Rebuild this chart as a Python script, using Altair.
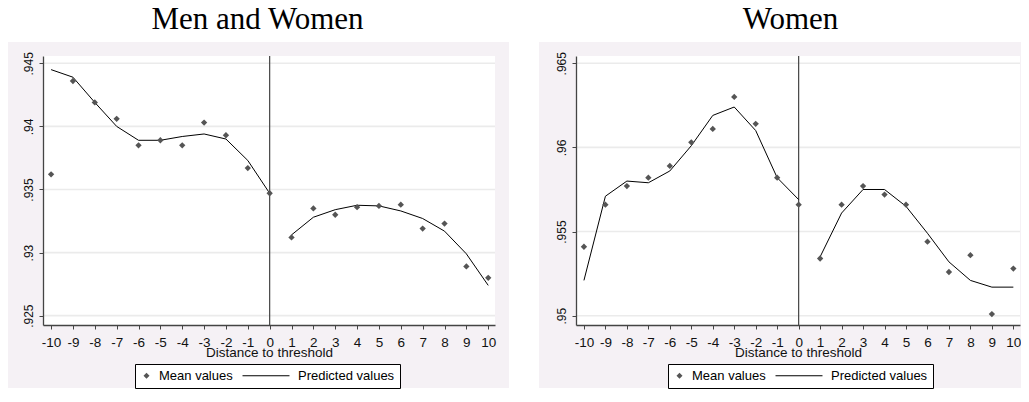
import altair as alt
import pandas as pd

# ---- data ----
x_vals = list(range(-10, 11))

mw_mean = [0.9362, 0.9436, 0.9419, 0.9406, 0.9385, 0.9389, 0.9385, 0.9403, 0.9393, 0.9367, 0.9347,
           0.9312, 0.9335, 0.9330, 0.9336, 0.9337, 0.9338, 0.9319, 0.9323, 0.9289, 0.9280]
mw_pred = [0.9445, 0.9439, 0.9419, 0.9400, 0.9389, 0.9389, 0.9392, 0.9394, 0.9390, 0.9373, 0.9347,
           0.9314, 0.9328, 0.9334, 0.93375, 0.9337, 0.9333, 0.9327, 0.9317, 0.9299, 0.9274]

w_mean = [0.9541, 0.9566, 0.9577, 0.9582, 0.9589, 0.9603, 0.9611, 0.9630, 0.9614, 0.9582, 0.9566,
          0.9534, 0.9566, 0.9577, 0.9572, 0.9566, 0.9544, 0.9526, 0.9536, 0.9501, 0.9528]
w_pred = [0.9521, 0.9571, 0.9580, 0.9579, 0.9586, 0.9601, 0.9619, 0.9624, 0.9610, 0.9582, 0.9569,
          0.9535, 0.9561, 0.9575, 0.9575, 0.9565, 0.9549, 0.9532, 0.9521, 0.9517, 0.9517]

mw_yticks = [0.925, 0.93, 0.935, 0.94, 0.945]
w_yticks = [0.95, 0.955, 0.96, 0.965]

series_names = ["Mean values", "Predicted values"]
titles = ["Men and Women", "Women"]
x_title = "Distance to threshold"

# ---- styling ----
H = 269
LAV = "#f5f1f5"
GRID = "#ebebeb"
AXC = "#444444"
PTC = "#555555"
SANS = "Liberation Sans"
LINE_PATH = "M-14.33,-0.2L1.33,-0.2L1.33,0.2L-14.33,0.2Z"


def panel(title, W, dx, mean, pred, yticks, ydom):
    df = pd.DataFrame({
        "x": x_vals,
        "mean": mean,
        "pred": pred,
        "seg": ["L" if v <= 0 else "R" for v in x_vals],
        "series": series_names[0],
    })
    one = pd.DataFrame({"v": [0]})
    xs = alt.Scale(domain=[-10.37, 10.31], nice=False, zero=False)
    ys = alt.Scale(domain=ydom, nice=False, zero=False)

    x_axis = alt.Axis(values=x_vals, labelExpr="'' + datum.value", tickSize=4, tickColor=AXC,
                      domainColor=AXC, domainWidth=1.3, labelPadding=17.5,
                      labelBaseline="alphabetic", labelFlush=False, labelOverlap=False,
                      title=x_title, titleBaseline="alphabetic", titleY=31,
                      grid=False, zindex=1)
    y_axis = alt.Axis(values=yticks, labelExpr="slice(format(datum.value, '.3~f'), 1)",
                      labelAngle=270, labelAlign="center", labelBaseline="alphabetic",
                      labelFontSize=12, tickSize=4, tickColor=AXC, domainColor=AXC,
                      domainWidth=1.3, labelPadding=7, labelFlush=False, labelOverlap=False,
                      title=None, grid=False, zindex=1)

    X = alt.X("x:Q", scale=xs, axis=x_axis)

    bg = alt.Chart(one).mark_rect(color=LAV).encode(
        x=alt.value(-37), x2=alt.value(466), y=alt.value(-14), y2=alt.value(332))
    white = alt.Chart(one).mark_rect(color="white").encode(
        x=alt.value(0), x2=alt.value(W), y=alt.value(0), y2=alt.value(H))
    grid = alt.Chart(pd.DataFrame({"t": yticks})).mark_rule(color=GRID, strokeWidth=1.6).encode(
        y=alt.Y("t:Q", scale=ys, axis=y_axis))
    zero = alt.Chart(pd.DataFrame({"z": [0]})).mark_rule(color=AXC, strokeWidth=1.2).encode(
        x=alt.X("z:Q", scale=xs, axis=x_axis))
    line = alt.Chart(df).mark_line(color="black", strokeWidth=1).encode(
        x=X, y=alt.Y("pred:Q", scale=ys, axis=y_axis), detail="seg:N")
    legend = alt.Legend(orient="none", legendX=92, legendY=308, direction="horizontal",
                        title=None, fillColor="white", strokeColor="black", padding=5,
                        labelFont=SANS, labelFontSize=13, labelColor="black",
                        symbolSize=36, symbolStrokeWidth=0, labelOffset=6,
                        columnPadding=9)
    pts = alt.Chart(df).mark_point(filled=True, size=40, opacity=1).encode(
        x=X,
        y=alt.Y("mean:Q", scale=ys, axis=y_axis),
        color=alt.Color("series:N", scale=alt.Scale(domain=series_names, range=[PTC, "#000000"]),
                        legend=legend),
        shape=alt.Shape("series:N", scale=alt.Scale(domain=series_names, range=["diamond", LINE_PATH]),
                        legend=legend),
    )
    return alt.layer(bg, white, grid, zero, line, pts).properties(
        width=W, height=H,
        title=alt.TitleParams(text=title, font="Liberation Serif", fontSize=31, fontWeight="normal",
                              color="black", anchor="middle", dx=dx, offset=6),
    )


left = panel(titles[0], 452, -11.5, mw_mean, mw_pred, mw_yticks, [0.92426, 0.94558])
right = panel(titles[1], 444, -7.5, w_mean, w_pred, w_yticks, [0.94945, 0.96543])

chart = alt.hconcat(left, right, spacing=30).resolve_scale(
    color="independent", shape="independent"
).properties(
    padding={"top": -4, "left": -2, "right": -21, "bottom": 0}
).configure_view(stroke=None).configure_axis(
    labelFont=SANS, titleFont=SANS, labelColor="#111111", titleColor="#111111",
    titleFontWeight="normal", labelFontSize=13.5, titleFontSize=13.5
)

chart.save("out.html", embed_options={"renderer": "svg", "actions": False})
